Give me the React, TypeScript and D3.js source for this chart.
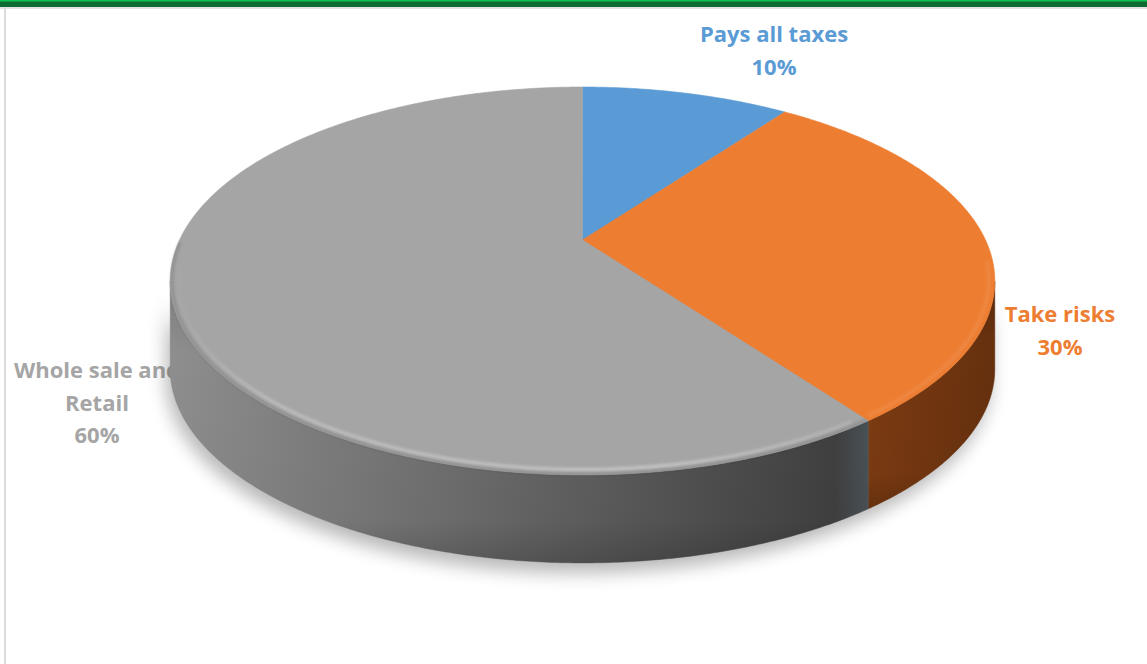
import React from "react";
import * as d3 from "d3";

const categories = ["Pays all taxes", "Take risks", "Whole sale and Retail"];
const values = [10, 30, 60];
const labelLines = [["Pays all taxes"], ["Take risks"], ["Whole sale and", "Retail"]];
const topColors = ["#5b9bd5", "#ed7d31", "#a5a5a5"];
const labelColors = ["#5b9bd5", "#ed7d31", "#a5a5a5"];

const W = 1147;
const H = 664;
// projection parameters (perspective tilt)
const CX = 582.5;
const CY = 240;
const R = 403;
const K = 185.3;
const P = -0.2113;
const DEPTH = 88;
// label anchor positions (layout)
const labelPos = [
  [774, 42],
  [1060, 322],
  [97, 378],
];
const LINE_H = 32.5;

function proj(a: number, s = 1): [number, number] {
  const px = s * Math.sin(a);
  const py = -s * Math.cos(a);
  const d = 1 + P * py;
  return [CX + (R * px) / d, CY + (K * py) / d];
}

function arcPts(a1: number, a2: number, s = 1, dy = 0): [number, number][] {
  const n = Math.max(2, Math.ceil(Math.abs(a2 - a1) / (Math.PI / 360)));
  const pts: [number, number][] = [];
  for (let i = 0; i <= n; i++) {
    const a = a1 + ((a2 - a1) * i) / n;
    const [x, y] = proj(a, s);
    pts.push([x, y + dy]);
  }
  return pts;
}

const line = d3.line<[number, number]>().x((d) => d[0]).y((d) => d[1]);

export default function App() {
  const arcs = d3.pie<number>().sort(null).startAngle(0).endAngle(2 * Math.PI)(values);

  // find silhouette angles (extreme x)
  let aR = 0, aL = 0, maxX = -Infinity, minX = Infinity;
  for (let i = 0; i < 3600; i++) {
    const a = (i / 3600) * 2 * Math.PI;
    const [x] = proj(a);
    if (x > maxX) { maxX = x; aR = a; }
    if (x < minX) { minX = x; aL = a; }
  }

  const walls = arcs
    .map((d, i) => {
      const b1 = Math.max(d.startAngle, aR);
      const b2 = Math.min(d.endAngle, aL);
      if (b2 <= b1) return null;
      const top = arcPts(b1, b2);
      const bot = arcPts(b2, b1, 1, DEPTH);
      return { i, path: line([...top, ...bot]) + "Z" };
    })
    .filter(Boolean) as { i: number; path: string }[];

  const tops = arcs.map((d, i) => {
    const pts = [[CX, CY] as [number, number], ...arcPts(d.startAngle, d.endAngle)];
    return { i, path: line(pts) + "Z" };
  });

  const fullBot = line(arcPts(0, 2 * Math.PI, 1, DEPTH)) + "Z";
  const frontWall = line([...arcPts(aR, aL), ...arcPts(aL, aR, 1, DEPTH)]) + "Z";

  const grayArc = arcs[2];
  const hl = line(arcPts(grayArc.startAngle + 0.03, aL + 0.05, 0.982));
  const hlDark = line(arcPts(grayArc.startAngle, aL + 0.2, 0.996));
  const orArc = arcs[1];
  const hlO = line(arcPts(aR - 0.1, orArc.endAngle - 0.01, 0.986));
  const [hx1] = proj(grayArc.startAngle);
  const [hx2] = proj(aL + 0.05);

  return (
    <svg
      width={W}
      height={H}
      style={{ position: "fixed", left: 0, top: 0, background: "#fff" }}
      fontFamily="'Open Sans', Lato, sans-serif"
    >
      <defs>
        <filter id="shadow" x="-20%" y="-20%" width="140%" height="160%">
          <feGaussianBlur stdDeviation="9" />
        </filter>
        <filter id="soft" x="-10%" y="-10%" width="120%" height="120%">
          <feGaussianBlur stdDeviation="1.8" />
        </filter>
        <linearGradient id="wall2" gradientUnits="userSpaceOnUse" x1={minX} x2={870} y1={0} y2={0}>
          <stop offset="0" stopColor="#8e8e8e" />
          <stop offset="0.35" stopColor="#727272" />
          <stop offset="0.7" stopColor="#555555" />
          <stop offset="0.95" stopColor="#404040" />
          <stop offset="1" stopColor="#4a5358" />
        </linearGradient>
        <linearGradient id="wall1" gradientUnits="userSpaceOnUse" x1={865} x2={maxX} y1={0} y2={0}>
          <stop offset="0" stopColor="#7d3c12" />
          <stop offset="1" stopColor="#66300e" />
        </linearGradient>
        <linearGradient id="wall0" gradientUnits="userSpaceOnUse" x1={0} x2={W} y1={0} y2={0}>
          <stop offset="0" stopColor="#2f5f8c" />
          <stop offset="1" stopColor="#2f5f8c" />
        </linearGradient>
        <linearGradient id="wallShade" x1="0" x2="0" y1="0" y2="1">
          <stop offset="0" stopColor="#000" stopOpacity="0.12" />
          <stop offset="0.25" stopColor="#000" stopOpacity="0" />
          <stop offset="0.85" stopColor="#000" stopOpacity="0.03" />
          <stop offset="1" stopColor="#000" stopOpacity="0.18" />
        </linearGradient>
        <linearGradient id="hlFade" gradientUnits="userSpaceOnUse" x1={hx1} x2={hx2} y1={0} y2={0}>
          <stop offset="0" stopColor="#fff" stopOpacity="0.15" />
          <stop offset="0.3" stopColor="#fff" stopOpacity="0.4" />
          <stop offset="0.85" stopColor="#fff" stopOpacity="0.3" />
          <stop offset="1" stopColor="#fff" stopOpacity="0" />
        </linearGradient>
      </defs>

      {/* frame */}
      <rect x={0} y={0} width={W} height={H} fill="#fff" />
      <rect x={0} y={7} width={W} height={2} fill="#e3e3e3" />
      <rect x={4} y={8} width={2} height={H - 8} fill="#dcdcdc" />
      <rect x={0} y={0} width={W} height={7} fill="#0b6b30" />
      <rect x={0} y={0} width={W} height={1.5} fill="#10c050" />

      {/* labels (drawn under pie) */}
      {labelLines.map((ls, i) => {
        const [x, y] = labelPos[i];
        const pct = Math.round((values[i] / d3.sum(values)) * 100) + "%";
        const all = [...ls, pct];
        return (
          <text key={categories[i]} x={x} y={y} textAnchor="middle" fontWeight={700} fontSize={22} fill={labelColors[i]}>
            {all.map((t, j) => (
              <tspan key={j} x={x} y={y + j * LINE_H}>
                {t}
              </tspan>
            ))}
          </text>
        );
      })}

      {/* shadow */}
      <g filter="url(#shadow)" opacity={0.28} transform="translate(-4,10)">
        <path d={fullBot} fill="#000" />
        <path d={frontWall} fill="#000" />
      </g>

      {/* walls */}
      {walls.map((w) => (
        <g key={"w" + w.i}>
          <path d={w.path} fill={`url(#wall${w.i})`} stroke={`url(#wall${w.i})`} strokeWidth={0.5} />
          <path d={w.path} fill="url(#wallShade)" />
        </g>
      ))}

      {/* top faces */}
      {tops.map((t) => (
        <path key={"t" + t.i} d={t.path} fill={topColors[t.i]} stroke={topColors[t.i]} strokeWidth={0.6} />
      ))}

      {/* bevel highlights */}
      <path d={hlDark!} fill="none" stroke="#000" strokeOpacity={0.14} strokeWidth={3} filter="url(#soft)" />
      <path d={hl!} fill="none" stroke="url(#hlFade)" strokeWidth={3} filter="url(#soft)" />
      <path d={hlO!} fill="none" stroke="#fff" strokeOpacity={0.1} strokeWidth={3} filter="url(#soft)" />
    </svg>
  );
}
